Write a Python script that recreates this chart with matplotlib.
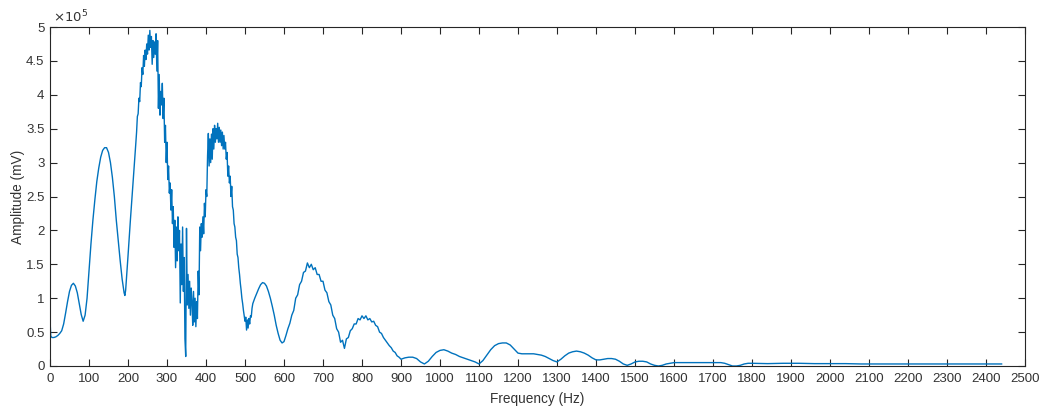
import numpy as np
import matplotlib
matplotlib.use("Agg")
import matplotlib.pyplot as plt
from matplotlib.ticker import FuncFormatter

# ---- data (amplitude in units of 1e5 mV) ----
freq_low = [0, 2, 5, 10, 15, 20, 25, 30, 35, 40, 45, 50, 55, 60, 65, 70, 75, 80, 85,
            90, 95, 100, 105, 110, 115, 120, 125, 130, 135, 140, 145, 150, 155, 160,
            165, 170, 175, 180, 185, 190, 192]
amp_low = [0.68, 0.44, 0.42, 0.42, 0.43, 0.45, 0.48, 0.52, 0.62, 0.78, 0.95, 1.10, 1.19,
           1.22, 1.18, 1.08, 0.92, 0.76, 0.66, 0.75, 1.00, 1.40, 1.80, 2.15, 2.45, 2.72,
           2.92, 3.08, 3.18, 3.22, 3.22, 3.15, 3.00, 2.78, 2.50, 2.15, 1.85, 1.55, 1.28,
           1.08, 1.04]

freq_main = list(range(194, 522, 2))
amp_main = [1.12, 1.28, 1.45, 1.62, 1.80, 1.97, 2.14, 2.30, 2.47, 2.63, 2.80, 2.95, 3.12,
            3.28, 3.45,                                            # 194-222
            3.68, 3.72, 3.95, 3.90, 4.18, 4.12, 4.40, 4.30, 4.58, 4.42,  # 224-242
            4.66, 4.52, 4.75, 4.60, 4.88, 4.66, 4.95, 4.70, 4.86, 4.45,  # 244-262
            4.80, 4.55, 4.78, 4.60, 4.90, 4.35, 4.80, 3.80, 4.30, 3.70,  # 264-282
            4.05, 3.85, 4.17, 3.65, 3.95, 3.30, 3.55, 3.00, 3.30, 2.75,  # 284-302
            2.95, 2.55, 2.70, 2.30, 2.60, 2.10, 2.35, 1.75, 2.15, 1.45,  # 304-322
            2.05, 1.55, 2.20, 1.70, 2.00, 0.93, 1.80, 1.20, 2.05, 1.10,  # 324-342
            1.60, 0.40, 0.14, 2.03, 0.90, 1.35, 0.85, 1.25, 0.75, 1.15,  # 344-362
            0.95, 0.60, 1.10, 0.65, 1.00, 0.58, 0.95, 0.70, 1.40, 1.05,  # 364-382
            2.05, 1.70, 2.10, 1.90, 2.20, 1.95, 2.40, 2.20, 2.60, 2.50,  # 384-402
            3.10, 3.43, 2.95, 3.35, 3.00, 3.42, 3.05, 3.50, 3.20, 3.55,  # 404-422
            3.30, 3.50, 3.35, 3.58, 3.30, 3.52, 3.30, 3.48, 3.25, 3.45,  # 424-442
            3.20, 3.40, 3.20, 3.30, 3.05, 3.15, 2.80, 2.95, 2.70, 2.80,  # 444-462
            2.50, 2.65, 2.35, 2.30, 2.10, 2.05, 1.90, 1.85, 1.65, 1.60,  # 464-482
            1.45, 1.35, 1.22, 1.12, 1.00, 0.92, 0.82, 0.74, 0.66, 0.72,  # 484-502
            0.53, 0.68, 0.56, 0.70, 0.62, 0.74, 0.72, 0.85, 0.92]        # 504-520

freq_mid = list(range(525, 905, 5))
amp_mid = [1.00, 1.07, 1.14, 1.20, 1.23, 1.22, 1.18, 1.10, 1.00, 0.88, 0.75, 0.60, 0.48,
           0.38, 0.34, 0.36, 0.45, 0.55, 0.63, 0.75, 0.82, 1.00, 1.05, 1.20, 1.25, 1.38,
           1.40, 1.52, 1.45, 1.50, 1.42, 1.45, 1.35, 1.35, 1.25, 1.25, 1.12, 1.08, 0.95,
           0.90, 0.75, 0.70, 0.55, 0.50, 0.35, 0.38, 0.26, 0.40, 0.42, 0.52, 0.55, 0.62,
           0.62, 0.70, 0.68, 0.74, 0.70, 0.74, 0.68, 0.70, 0.65, 0.66, 0.60, 0.58, 0.50,
           0.48, 0.42, 0.38, 0.34, 0.30, 0.27, 0.22, 0.20, 0.15, 0.13, 0.10]

freq_high = list(range(910, 1810, 10))
amp_high = [0.12, 0.13, 0.13, 0.11, 0.06, 0.03, 0.07, 0.14, 0.20, 0.23, 0.24, 0.22, 0.19,
            0.17, 0.14, 0.12, 0.10, 0.08, 0.06, 0.03, 0.08, 0.16, 0.24, 0.30, 0.33, 0.34,
            0.34, 0.31, 0.25, 0.19, 0.18, 0.18, 0.18, 0.18, 0.17, 0.16, 0.14, 0.11, 0.08,
            0.06, 0.10, 0.15, 0.19, 0.21, 0.22, 0.21, 0.19, 0.16, 0.12, 0.09, 0.09, 0.10,
            0.11, 0.11, 0.10, 0.07, 0.03, 0.01, 0.03, 0.06, 0.07, 0.07, 0.06, 0.03, 0.01,
            0.00, 0.01, 0.03, 0.04, 0.05, 0.05, 0.05, 0.05, 0.05, 0.05, 0.05, 0.05, 0.05,
            0.05, 0.05, 0.05, 0.05, 0.04, 0.02, 0.00, 0.00, 0.01, 0.03, 0.04, 0.04]

freq_tail = list(range(1840, 2441, 40))
amp_tail = [0.035, 0.04, 0.04, 0.035, 0.035, 0.035, 0.03, 0.03, 0.03, 0.03, 0.03, 0.03,
            0.03, 0.03, 0.03, 0.03]

x_ticks = list(range(0, 2501, 100))
y_ticks = [0, 0.5, 1, 1.5, 2, 2.5, 3, 3.5, 4, 4.5, 5]
scale = 1e5

freq = np.array(freq_low + freq_main + freq_mid + freq_high + freq_tail, dtype=float)
amp = np.array(amp_low + amp_main + amp_mid + amp_high + amp_tail) * scale

plt.rcParams['font.family'] = ['Liberation Sans', 'DejaVu Sans']
fig = plt.figure(figsize=(10.4, 4.07), dpi=100)
ax = fig.add_axes([50/1040, 41/407, 975/1040, 339/407])

ax.plot(freq, amp, color='#0072BD', lw=1.0)

ax.set_xlim(0, 2500)
ax.set_ylim(0, 5 * scale)
ax.set_xticks(x_ticks)
ax.set_yticks([v * scale for v in y_ticks])
ax.yaxis.set_major_formatter(FuncFormatter(lambda v, p: f"{v/scale:g}"))

tc = '#262626'
for s in ax.spines.values():
    s.set_color(tc)
    s.set_linewidth(0.8)
ax.tick_params(direction='in', length=5, width=0.8, colors=tc, labelsize=9.5,
               top=True, right=True, labelcolor='#333333')
ax.tick_params(axis='x', pad=5)
ax.tick_params(axis='y', pad=4)

ax.set_xlabel('Frequency (Hz)', fontsize=9.8, color='#333333', labelpad=5)
ax.set_ylabel('Amplitude (mV)', fontsize=9.8, color='#333333', labelpad=1)
ax.text(0.003, 1.006, r'$\times10^{5}$', transform=ax.transAxes, fontsize=9.5,
        color='#333333', ha='left', va='bottom')

fig.savefig('out.png', dpi=100)
